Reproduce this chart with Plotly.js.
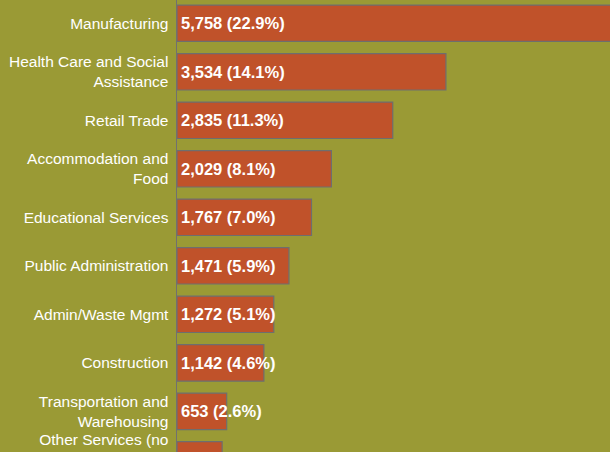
<!DOCTYPE html>
<html>
<head>
<meta charset="utf-8">
<script src="https://cdn.plot.ly/plotly-3.0.1.min.js"></script>
<style>
  html, body { margin: 0; padding: 0; background: #9a9a35; overflow: hidden; }
  #chart { width: 610px; height: 520px; }
</style>
</head>
<body>
<div id="chart"></div>
<script>
var industries = [
  'Manufacturing',
  'Health Care and Social<br>Assistance',
  'Retail Trade',
  'Accommodation and<br>Food',
  'Educational Services',
  'Public Administration',
  'Admin/Waste Mgmt',
  'Construction',
  'Transportation and<br>Warehousing',
  'Other Services (no<br>Public<br>Administration)'
];
var jobs = [5758, 3534, 2835, 2029, 1767, 1471, 1272, 1142, 653, 593];
var shares = ['22.9%', '14.1%', '11.3%', '8.1%', '7.0%', '5.9%', '5.1%', '4.6%', '2.6%', '2.4%'];

var labels = jobs.map(function (v, i) {
  return v.toLocaleString('en-US') + ' (' + shares[i] + ')';
});

var bars = {
  type: 'bar',
  orientation: 'h',
  x: jobs,
  y: industries,
  width: 0.75,
  marker: {
    color: '#c0522a',
    line: { color: '#6e6e6e', width: 1.2 }
  },
  hoverinfo: 'none'
};

var notes = labels.map(function (t, i) {
  return {
    x: 0, y: industries[i],
    xref: 'x', yref: 'y',
    text: '<b>' + t + '</b>',
    showarrow: false,
    xanchor: 'left',
    xshift: 2,
    font: { family: 'Liberation Sans, Arial, sans-serif', size: 16.5, color: '#ffffff' }
  };
});

// page is taller than the window so the last row is cut off like the reference
var layout = {
  width: 610,
  height: 520,
  margin: { l: 177, r: 0, t: 0, b: 0 },
  paper_bgcolor: '#9a9a35',
  plot_bgcolor: '#9a9a35',
  showlegend: false,
  xaxis: {
    range: [0, 5690],
    visible: false,
    fixedrange: true
  },
  yaxis: {
    type: 'category',
    range: [10.24, -0.48],
    showline: true,
    linecolor: '#707070',
    linewidth: 1.5,
    showgrid: false,
    zeroline: false,
    ticks: '',
    ticklabelstandoff: 4,
    tickfont: { family: 'Liberation Sans, Arial, sans-serif', size: 15.5, color: '#ffffff' }
  },
  annotations: notes
};

Plotly.newPlot('chart', [bars], layout, { displayModeBar: false, staticPlot: true });
</script>
</body>
</html>
